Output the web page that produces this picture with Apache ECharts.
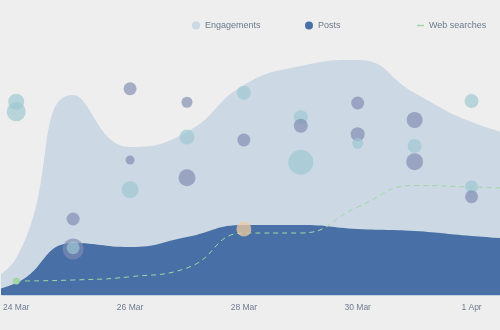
<!DOCTYPE html>
<html>
<head>
<meta charset="utf-8">
<script src="https://cdn.jsdelivr.net/npm/echarts@6/dist/echarts.min.js"></script>
<style>
  html, body { margin: 0; padding: 0; background: #eeeeee; }
  #chart { width: 500px; height: 330px; }
</style>
</head>
<body>
<div id="chart"></div>
<script>
// Daily series (23 Mar and 2 Apr sit just outside the visible window)
const days = ['2024-03-23', '2024-03-24', '2024-03-25', '2024-03-26', '2024-03-27',
              '2024-03-28', '2024-03-29', '2024-03-30', '2024-03-31', '2024-04-01', '2024-04-02'];
const engagements = [2, 14.8, 80, 59.2, 65.2, 84, 91.6, 94, 80.8, 69.2, 62.8];
const posts       = [0, 4.8, 20.8, 19.2, 23.2, 28, 28, 26.4, 25.6, 23.6, 22];
const webSearches = [null, 5.6, 6, 7.3, 10.8, 24.8, 24.8, 35.2, 43.8, 43.2, 42.4];

// Bubbles: date, value, diameter, kind (drawn in this order)
const bubbleDays   = ['2024-03-24', '2024-03-24',
                      '2024-03-25', '2024-03-25', '2024-03-25',
                      '2024-03-26', '2024-03-26', '2024-03-26',
                      '2024-03-27', '2024-03-27', '2024-03-27',
                      '2024-03-28', '2024-03-28', '2024-03-28',
                      '2024-03-29', '2024-03-29', '2024-03-29',
                      '2024-03-30', '2024-03-30', '2024-03-30',
                      '2024-03-31', '2024-03-31', '2024-03-31',
                      '2024-04-01', '2024-04-01', '2024-04-01'];
const bubbleValues = [77.3, 73.3,
                      30.4, 18.4, 18.9,
                      82.5, 54, 42.1,
                      77.1, 63.2, 46.9,
                      80.9, 62, 26.4,
                      71.1, 67.7, 53.1,
                      76.8, 64.3, 60.7,
                      70, 59.6, 53.3,
                      77.6, 43.3, 39.3];
const bubbleSizes  = [16, 19,
                      13, 21, 13,
                      13, 9, 17,
                      11, 15, 17,
                      14, 13, 15,
                      14, 14, 25,
                      13, 14, 11,
                      16, 14, 17,
                      14, 13, 13];
const bubbleKinds  = ['teal', 'teal',
                      'slate', 'slate', 'teal',
                      'slate', 'slate', 'teal',
                      'slate', 'teal', 'slate',
                      'teal', 'slate', 'peach',
                      'teal', 'slate', 'teal',
                      'slate', 'slate', 'teal',
                      'slate', 'teal', 'slate',
                      'teal', 'teal', 'slate'];

// Axis labels
const tickDays   = ['2024-03-24', '2024-03-26', '2024-03-28', '2024-03-30', '2024-04-01'];
const tickLabels = ['24 Mar', '26 Mar', '28 Mar', '30 Mar', '1 Apr'];

// x positions are days counted from 24 Mar
const DAY = 24 * 3600 * 1000;
const origin = Date.UTC(2024, 2, 24);
const dayPos = s => {
  const [y, m, d] = s.split('-').map(Number);
  return Math.round((Date.UTC(y, m - 1, d) - origin) / DAY);
};

const bubbleColors = {
  slate: 'rgba(128, 139, 178, 0.84)',
  teal:  'rgba(157, 199, 210, 0.85)',
  peach: 'rgba(236, 201, 160, 0.95)'
};

const font = "'Liberation Sans', Arial, sans-serif";
const legendText = { color: '#6b7a8c', fontSize: 9, fontFamily: font };

const chart = echarts.init(document.getElementById('chart'), null, { renderer: 'canvas' });

const tickPos = tickDays.map(dayPos);

const webData = [];
days.forEach((d, i) => {
  if (webSearches[i] == null) return;
  if (webData.length === 0) {
    webData.push({ value: [dayPos(d), webSearches[i]], symbol: 'circle', symbolSize: 7,
                   itemStyle: { color: '#a2d6a6', borderWidth: 0 } });
  } else {
    webData.push([dayPos(d), webSearches[i]]);
  }
});

chart.setOption({
  backgroundColor: '#eeeeee',
  animation: false,
  textStyle: { fontFamily: font },
  legend: [
    {
      top: 16, left: 187, itemWidth: 8, itemHeight: 8, textStyle: legendText,
      data: [{ name: 'Engagements', icon: 'circle' }]
    },
    {
      top: 16, left: 300, itemWidth: 8, itemHeight: 8, textStyle: legendText,
      data: [{ name: 'Posts', icon: 'circle' }]
    },
    {
      top: 16, left: 412, itemWidth: 7, itemHeight: 1.5, textStyle: legendText,
      data: [{ name: 'Web searches', icon: 'rect' }]
    }
  ],
  grid: { left: 0, right: 0, top: 45, bottom: 35 },
  xAxis: {
    type: 'value',
    min: -0.25,
    max: 8.5,
    axisLine: { show: true, lineStyle: { color: '#c4d3e4', width: 1 } },
    axisTick: { show: false },
    splitLine: { show: false },
    axisLabel: {
      customValues: tickPos,
      color: '#6f7c8e',
      fontSize: 8.5,
      margin: 8,
      fontFamily: font,
      formatter: v => {
        const i = tickPos.indexOf(Math.round(v));
        return i >= 0 ? tickLabels[i] : '';
      }
    }
  },
  yAxis: {
    type: 'value',
    min: 0,
    max: 100,
    show: false,
    splitLine: { show: false }
  },
  series: [
    {
      name: 'Engagements',
      type: 'line',
      smooth: true,
      symbol: 'none',
      color: '#ccd8e3',
      lineStyle: { width: 0 },
      areaStyle: { color: '#ccd8e3', opacity: 1 },
      data: days.map((d, i) => [dayPos(d), engagements[i]]),
      z: 1
    },
    {
      name: 'Posts',
      type: 'line',
      smooth: true,
      symbol: 'none',
      color: '#4870a6',
      lineStyle: { width: 0 },
      areaStyle: { color: '#4870a6', opacity: 1 },
      data: days.map((d, i) => [dayPos(d), posts[i]]),
      z: 2
    },
    {
      name: 'Web searches',
      type: 'line',
      smooth: true,
      symbol: 'none',
      showSymbol: true,
      color: '#a2d6a6',
      lineStyle: { width: 1, type: [5, 4], color: '#a2d6a6' },
      data: webData,
      z: 3
    },
    {
      name: 'Bubbles',
      type: 'scatter',
      data: bubbleDays.map((d, i) => ({
        value: [dayPos(d), bubbleValues[i]],
        symbolSize: bubbleSizes[i],
        itemStyle: { color: bubbleColors[bubbleKinds[i]] }
      })),
      z: 4
    }
  ]
});
</script>
</body>
</html>
